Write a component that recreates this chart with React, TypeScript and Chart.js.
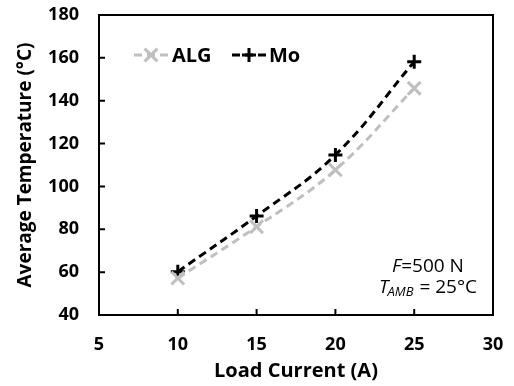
import React, { useEffect, useRef } from "react";
import { Chart, registerables } from "chart.js";

Chart.register(...registerables);

const loadCurrent = [10, 15, 20, 25];
const algTemp = [57.2, 81.2, 107.7, 145.8];
const moTemp = [60.2, 86.2, 114.7, 158.2];
const xTicks = [5, 10, 15, 20, 25, 30];
const yTicks = [40, 60, 80, 100, 120, 140, 160, 180];

const FONT = "'Open Sans', 'DejaVu Sans', sans-serif";
const GRAY = "#bfbfbf";
const BLACK = "#000000";

const framePlugin = {
  id: "frame",
  afterDatasetsDraw(chart: any) {
    const { ctx, chartArea: a, scales } = chart;
    ctx.save();
    ctx.strokeStyle = BLACK;
    ctx.lineWidth = 2;
    ctx.strokeRect(a.left, a.top, a.right - a.left, a.bottom - a.top);
    ctx.beginPath();
    for (const v of xTicks) {
      const x = scales.x.getPixelForValue(v);
      ctx.moveTo(x, a.bottom);
      ctx.lineTo(x, a.bottom - 6);
    }
    for (const v of yTicks) {
      const y = scales.y.getPixelForValue(v);
      ctx.moveTo(a.left, y);
      ctx.lineTo(a.left + 6, y);
    }
    ctx.stroke();

    // legend
    const drawEntry = (x0: number, x1: number, mx: number, y: number, color: string, style: string, r: number, label: string, tx: number) => {
      ctx.save();
      ctx.strokeStyle = color;
      ctx.lineWidth = 3;
      ctx.setLineDash([8, 5]);
      ctx.beginPath();
      ctx.moveTo(x0, y);
      ctx.lineTo(x1, y);
      ctx.stroke();
      ctx.setLineDash([]);
      ctx.beginPath();
      if (style === "cross") {
        ctx.moveTo(mx - r, y);
        ctx.lineTo(mx + r, y);
        ctx.moveTo(mx, y - r);
        ctx.lineTo(mx, y + r);
      } else {
        const d = r * 0.707;
        ctx.moveTo(mx - d, y - d);
        ctx.lineTo(mx + d, y + d);
        ctx.moveTo(mx - d, y + d);
        ctx.lineTo(mx + d, y - d);
      }
      ctx.stroke();
      ctx.fillStyle = BLACK;
      ctx.font = `bold 20px ${FONT}`;
      ctx.textAlign = "left";
      ctx.textBaseline = "middle";
      ctx.fillText(label, tx, y + 1);
      ctx.restore();
    };
    drawEntry(134, 168, 151, 55, GRAY, "crossRot", 9, "ALG", 172);
    drawEntry(232, 266, 249, 55, BLACK, "cross", 7, "Mo", 269);

    // annotation
    ctx.fillStyle = BLACK;
    ctx.textBaseline = "alphabetic";
    ctx.textAlign = "left";
    const cx = 428;
    const line1y = 272;
    ctx.font = `italic 19px ${FONT}`;
    const fW = ctx.measureText("F").width;
    ctx.font = `19px ${FONT}`;
    const restW = ctx.measureText("=500 N").width;
    let x = cx - (fW + restW) / 2;
    ctx.font = `italic 19px ${FONT}`;
    ctx.fillText("F", x, line1y);
    ctx.font = `19px ${FONT}`;
    ctx.fillText("=500 N", x + fW, line1y);

    const line2y = 293;
    ctx.font = `italic 19px ${FONT}`;
    const tW = ctx.measureText("T").width;
    ctx.font = `italic 13px ${FONT}`;
    const subW = ctx.measureText("AMB").width;
    ctx.font = `19px ${FONT}`;
    const r2W = ctx.measureText(" = 25°C").width;
    x = cx - (tW + subW + r2W) / 2;
    ctx.font = `italic 19px ${FONT}`;
    ctx.fillText("T", x, line2y);
    ctx.font = `italic 13px ${FONT}`;
    ctx.fillText("AMB", x + tW - 1, line2y + 3);
    ctx.font = `19px ${FONT}`;
    ctx.fillText(" = 25°C", x + tW + subW, line2y);
    ctx.restore();
  },
};

export default function App() {
  const ref = useRef<HTMLCanvasElement>(null);
  useEffect(() => {
    document.body.style.margin = "0";
    const chart = new Chart(ref.current!, {
      type: "line",
      data: {
        datasets: [
          {
            label: "ALG",
            data: loadCurrent.map((x, i) => ({ x, y: algTemp[i] })),
            borderColor: GRAY,
            backgroundColor: GRAY,
            borderWidth: 3,
            borderDash: [8, 5],
            tension: 0.4,
            pointStyle: "crossRot",
            pointRadius: 9,
            pointBorderWidth: 3,
            pointBorderColor: GRAY,
          },
          {
            label: "Mo",
            data: loadCurrent.map((x, i) => ({ x, y: moTemp[i] })),
            borderColor: BLACK,
            backgroundColor: BLACK,
            borderWidth: 3,
            borderDash: [8, 5],
            tension: 0.4,
            pointStyle: "cross",
            pointRadius: 7,
            pointBorderWidth: 3,
            pointBorderColor: BLACK,
          },
        ],
      },
      options: {
        responsive: false,
        animation: false,
        layout: { padding: { top: 15, right: 21, left: 0, bottom: 0 } },
        plugins: { legend: { display: false }, tooltip: { enabled: false } },
        scales: {
          x: {
            type: "linear",
            min: 5,
            max: 30,
            afterBuildTicks: (s: any) => {
              s.ticks = xTicks.map((v) => ({ value: v }));
            },
            afterFit: (s: any) => {
              s.height = 71;
              s.paddingLeft = 0;
              s.paddingRight = 0;
            },
            grid: { display: false, drawTicks: false },
            border: { display: false },
            ticks: { color: BLACK, font: { family: FONT, size: 18, weight: "bold" }, padding: 19, maxRotation: 0 },
            title: {
              display: true,
              text: "Load Current (A)",
              color: BLACK,
              font: { family: FONT, size: 20, weight: "bold" },
              padding: { top: 0, bottom: 3 },
            },
          },
          y: {
            type: "linear",
            min: 40,
            max: 180,
            afterBuildTicks: (s: any) => {
              s.ticks = yTicks.map((v) => ({ value: v }));
            },
            afterFit: (s: any) => {
              s.width = 99;
              s.paddingTop = 0;
              s.paddingBottom = 0;
            },
            grid: { display: false, drawTicks: false },
            border: { display: false },
            ticks: { color: BLACK, font: { family: FONT, size: 18, weight: "bold" }, padding: 20 },
            title: {
              display: true,
              text: "Average Temperature (°C)",
              color: BLACK,
              font: { family: FONT, size: 19, weight: "bold" },
              padding: { top: 14, bottom: 0 },
            },
          },
        },
      },
      plugins: [framePlugin],
    } as any);
    return () => chart.destroy();
  }, []);
  return <canvas ref={ref} width={514} height={386} style={{ display: "block" }} />;
}
